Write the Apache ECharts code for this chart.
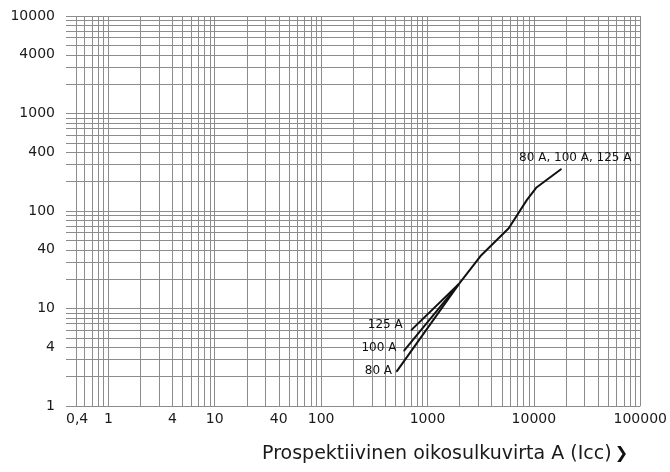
<!DOCTYPE html>
<html>
<head>
<meta charset="utf-8">
<script src="https://cdn.jsdelivr.net/npm/echarts@6/dist/echarts.min.js"></script>
<style>
html,body{margin:0;padding:0;background:#fff;}
#chart{width:670px;height:472px;}
</style>
</head>
<body>
<div id="chart"></div>
<script>
// tick labels
var xLabels = [0.4, 1, 4, 10, 40, 100, 1000, 10000, 100000];
var yLabels = [1, 4, 10, 40, 100, 400, 1000, 4000, 10000];

// curves: [current A, time]
var common = [[1970, 17.8], [3150, 34.5], [5800, 66.5], [8600, 130], [10500, 173], [18100, 270]];
var curve80 = [[512, 2.25], [1970, 17.8]];
var curve100 = [[600, 3.67], [1970, 17.8]];
var curve125 = [[703, 6.0], [1970, 17.8]];

// log paper grid: 1..9 in every decade
function logGrid(from, to){
	var out = [];
	for(var d = from; d < to; d *= 10){
		for(var k = 1; k < 10; k++){
			out.push(+(k*d).toPrecision(3));
		}
	}
	out.push(to);
	return out;
}
var xGrid = logGrid(0.1, 100000).filter(function(v){ return v > 0.4; });
var yGrid = logGrid(1, 10000);

var font = '"DejaVu Sans", sans-serif';
var gridLine = {show:true, lineStyle:{color:'#8c8c8c', width:1}};

function fmt(v){
	return String(v).replace('.', ',');
}

function branch(data, name, dist, offset){
	var pts = data.map(function(p, i){
		if(i === 0){
			return {value:p, symbolSize:1, label:{show:true, formatter:name, position:'left', distance:dist, offset:offset}};
		}
		return {value:p, symbolSize:0};
	});
	return {
		type:'line', data:pts, symbol:'circle', showSymbol:true,
		lineStyle:{color:'#111', width:2}, itemStyle:{color:'#111'},
		label:{color:'#111', fontSize:12, fontFamily:font},
		silent:true
	};
}

var myChart = echarts.init(document.getElementById('chart'));
var mainPts = common.map(function(p, i){
	if(i === common.length-1){
		return {value:p, symbolSize:1, label:{show:true, formatter:'80 A, 100 A, 125 A', position:'top', distance:5, offset:[14, 0]}};
	}
	return {value:p, symbolSize:0};
});

myChart.setOption({
	animation:false,
	grid:{left:66, right:29, top:16, bottom:66},
	xAxis:{
		type:'log', min:0.4, max:100000,
		name:'{t|Prospektiivinen oikosulkuvirta A (Icc)} {c|❯}',
		nameLocation:'end', nameGap:0,
		nameTextStyle:{
			align:'right', verticalAlign:'top', padding:[36, 12, 0, 0],
			rich:{
				t:{fontSize:19, lineHeight:24, fontFamily:font, color:'#1a1a1a', verticalAlign:'middle'},
				c:{fontSize:16, lineHeight:24, fontFamily:font, fontWeight:'bold', color:'#111', verticalAlign:'middle'}
			}
		},
		axisLine:{show:false},
		axisTick:{show:false, customValues:xGrid},
		splitLine:gridLine,
		minorSplitLine:{show:false},
		axisLabel:{
			customValues:xLabels, formatter:function(v){ return fmt(v); },
			fontSize:14, fontFamily:font, color:'#1a1a1a', margin:6, alignMinLabel:'left'
		}
	},
	yAxis:{
		type:'log', min:1, max:10000,
		axisLine:{show:false},
		axisTick:{show:false, customValues:yGrid},
		splitLine:gridLine,
		axisLabel:{
			customValues:yLabels, formatter:function(v){ return fmt(v); },
			fontSize:14, fontFamily:font, color:'#1a1a1a', margin:11
		}
	},
	series:[
		{
			type:'line', data:mainPts, symbol:'circle', showSymbol:true,
			lineStyle:{color:'#111', width:2}, itemStyle:{color:'#111'},
			label:{color:'#111', fontSize:12, fontFamily:font},
			silent:true
		},
		branch(curve125, '125 A', 8, [0, -5]),
		branch(curve100, '100 A', 7, [0, -3]),
		branch(curve80, '80 A', 4, [0, -1])
	]
});
</script>
</body>
</html>
